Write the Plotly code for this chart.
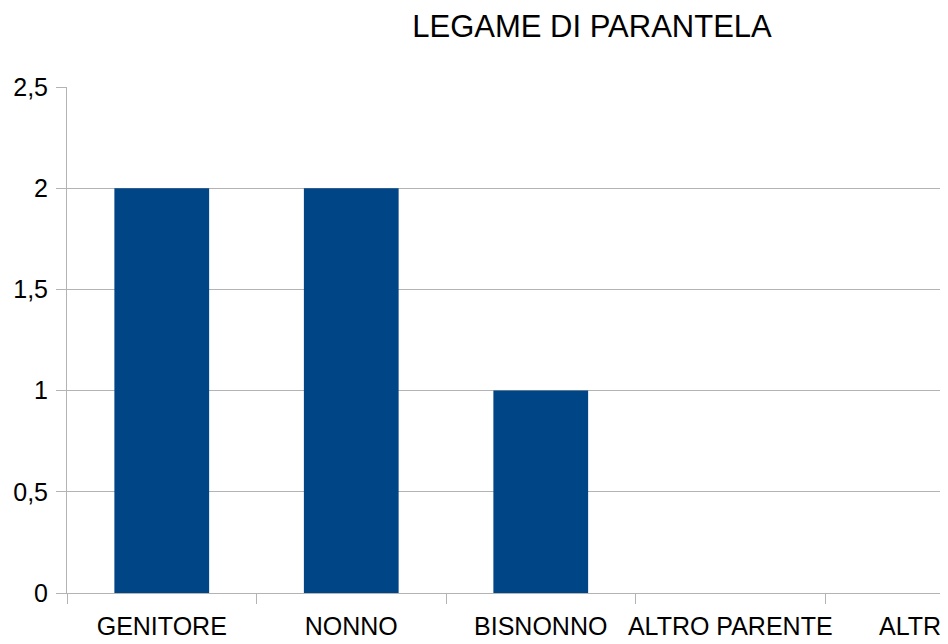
import plotly.graph_objects as go

categories = ["GENITORE", "NONNO", "BISNONNO", "ALTRO PARENTE", "ALTRO"]
values = [2, 2, 1, 0, 0]
y_ticks = [0, 0.5, 1, 1.5, 2, 2.5]

# page body has an 8px margin; figure coordinates = page coordinates - 8
OFF = 8
W, H = 941 - OFF, 644 - OFF
left, right_edge, top, bottom_y = 67 - OFF, 941 - OFF, 87 - OFF, 593 - OFF
cat_w = 189.5
x_max = -0.5 + (right_edge - left) / cat_w

fig = go.Figure(go.Bar(x=categories, y=values, marker_color="#004586",
                       marker_line_width=0))

fig.update_layout(
    width=W, height=H,
    margin=dict(l=left, r=W - right_edge, t=top, b=H - bottom_y, pad=0,
                autoexpand=False),
    paper_bgcolor="white", plot_bgcolor="white",
    bargap=0.5,
    separators=",.",
    font=dict(family="Liberation Sans, Arial, sans-serif", color="black", size=25),
    title=dict(text="LEGAME DI PARANTELA", x=(592 - OFF) / W, xanchor="center",
               y=1 - (26 - OFF) / H, yanchor="middle",
               font=dict(size=31, color="black")),
    showlegend=False,
)
fig.update_xaxes(range=[-0.5, x_max], showline=True, linecolor="#b3b3b3",
                 linewidth=1, ticks="outside", tickson="boundaries", ticklen=10,
                 tickcolor="#b3b3b3", showgrid=False, tickangle=0,
                 ticklabelstandoff=11,
                 automargin=False, tickfont=dict(size=25))
fig.update_yaxes(range=[0, 2.5], tickvals=y_ticks, showline=True,
                 linecolor="#b3b3b3", linewidth=1, ticks="outside", ticklen=10,
                 tickcolor="#b3b3b3", gridcolor="#b3b3b3", gridwidth=1,
                 ticklabelstandoff=3,
                 zeroline=False, automargin=False, tickfont=dict(size=25))

fig.write_html("out.html")
